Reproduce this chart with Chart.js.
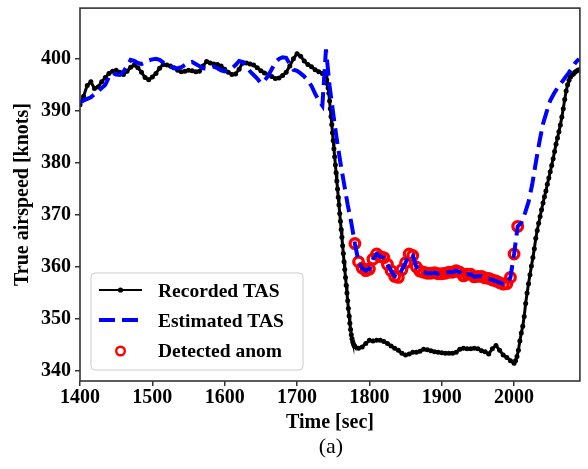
<!DOCTYPE html>
<html><head><meta charset="utf-8">
<script src="https://cdn.jsdelivr.net/npm/chart.js@4/dist/chart.umd.min.js"></script>
<style>
html,body{margin:0;padding:0;background:#fff;}
#wrap{position:relative;width:588px;height:469px;}
canvas{display:block;}
#cap{position:absolute;left:80px;width:502px;top:433px;text-align:center;font:22px "Liberation Serif";line-height:26px;color:#000;}
</style></head><body>
<div id="wrap"><canvas id="c" width="588" height="469"></canvas><div id="cap">(a)</div></div>
<script>
function range(a, b, s) { const r = []; for (let v = a; v <= b + 1e-9; v += s) r.push(v); return r; }

// Time grids (sec)
const recordedTime = [].concat(range(1400, 1740, 5), range(1741, 1780, 1), range(1785, 2000, 5), range(2002, 2090, 2));
const estimatedTime = range(1400, 2090, 5);

// Recorded TAS [knots]
const recordedTAS = [
  // 1400..1740 step 5
  391.2, 392.8, 394.9, 395.6, 394.3, 394.6, 395.6, 396.4, 397.2, 397.6,
  397.8, 397.4, 397.0, 397.6, 398.4, 398.8, 398.3, 397.4, 396.4, 396.0,
  396.5, 397.2, 398.2, 398.9, 398.8, 398.6, 398.3, 397.8, 397.5, 397.6,
  397.8, 397.7, 397.5, 397.6, 398.6, 399.5, 399.2, 399.0, 398.9, 398.6,
  398.0, 397.4, 397.0, 397.1, 398.0, 399.3, 399.2, 399.0, 398.8, 398.3,
  397.7, 397.3, 396.9, 396.6, 396.2, 396.3, 396.8, 397.4, 398.6, 400.0,
  401.0, 400.5, 399.6, 398.9, 398.5, 397.9, 397.5, 397.2, 396.6,
  // 1741..1780 step 1
  396.0, 395.2, 394.4, 393.4, 391.9, 390.4, 388.9, 387.4, 385.8, 384.3,
  382.7, 381.2, 379.6, 378.1, 376.5, 375.0, 373.4, 371.9, 370.3, 368.8,
  367.2, 365.7, 364.1, 362.6, 361.0, 359.5, 358.0, 356.5, 355.0, 353.5,
  352.0, 350.6, 349.2, 348.0, 347.0, 346.2, 345.6, 345.2, 344.9, 344.7,
  // 1785..2000 step 5
  344.4, 344.6, 345.3, 345.9, 345.8, 345.9, 345.9, 345.7, 345.3, 344.8,
  344.4, 344.0, 343.4, 343.1, 343.3, 343.6, 343.6, 343.8, 344.2, 344.1,
  343.9, 343.7, 343.6, 343.5, 343.4, 343.4, 343.4, 343.6, 344.2, 344.4,
  344.3, 344.3, 344.4, 344.3, 343.9, 343.7, 343.3, 344.3, 344.9, 344.0,
  343.1, 342.6, 342.0, 341.5,
  // 2002..2090 step 2
  342.0, 342.8, 344.0, 345.8, 347.3, 348.6, 350.5, 353.0, 355.0, 356.8,
  358.5, 360.2, 361.8, 363.5, 365.5, 367.0, 368.4, 369.7, 371.0, 372.3,
  373.5, 374.6, 375.9, 377.1, 378.3, 379.5, 380.8, 382.2, 383.6, 384.8,
  386.0, 387.3, 388.8, 390.4, 392.2, 393.8, 395.0, 395.9, 396.5, 396.9,
  397.1, 397.4, 397.6, 397.8, 397.9
];

// Estimated TAS [knots], 1400..2090 step 5
const estimatedTAS = [
  391.6, 392.0, 392.3, 392.6, 393.2, 393.8, 394.4, 395.0, 396.5, 397.3,
  397.0, 396.9, 397.5, 398.6, 399.8, 399.6, 399.2, 399.0, 399.3, 399.7,
  399.9, 400.0, 399.8, 399.3, 398.8, 398.5, 398.2, 398.2, 398.4, 398.8,
  399.2, 399.4, 399.0, 398.6, 398.2, 398.1, 398.3, 398.5, 398.2, 397.8,
  397.6, 397.8, 398.2, 398.8, 399.6, 399.4, 398.6, 397.6, 396.9, 396.2,
  395.3, 395.8, 396.7, 398.0, 399.3, 400.0, 400.3, 400.2, 399.0, 397.9,
  397.7, 397.2, 396.6, 395.8, 394.8, 393.3, 392.0, 391.0, 401.8, 394.8,
  389.5, 384.5, 380.0, 376.0, 372.0, 368.5, 364.5, 361.0, 359.8, 359.3,
  359.6, 361.5, 362.5, 362.0, 361.8, 360.5, 359.3, 358.2, 358.0, 359.5,
  360.8, 362.5, 362.2, 360.0, 359.2, 359.0, 358.8, 358.8, 358.9, 358.7,
  358.7, 358.8, 359.0, 359.0, 359.3, 359.0, 358.3, 358.6, 358.6, 358.1,
  358.2, 358.2, 357.9, 357.8, 357.5, 357.3, 357.0, 356.7, 356.8, 358.0,
  362.5, 367.8, 368.5, 370.3, 372.5, 375.8, 380.0, 384.0, 387.5, 389.8,
  392.0, 393.3, 394.4, 395.3, 396.3, 397.2, 398.2, 399.3, 400.0
];

// Detected anomaly window (sec)
const anomalyStart = 1780;
const anomalyEnd = 2005;

const xTicks = [1400, 1500, 1600, 1700, 1800, 1900, 2000];
const yTicks = [340, 350, 360, 370, 380, 390, 400];

const labels = ['Recorded TAS', 'Estimated TAS', 'Detected anom'];

const recPts = recordedTime.map((t, i) => ({x: t, y: recordedTAS[i]}));
const estPts = estimatedTime.map((t, i) => ({x: t, y: estimatedTAS[i]}));
const anomPts = estPts.filter(p => p.x >= anomalyStart && p.x <= anomalyEnd);

const FONT = 'Liberation Serif';
const BLUE_DASH = [16, 7];

const framePlugin = {
  id: 'frame',
  afterDatasetsDraw(chart) {
    const {ctx, chartArea: a} = chart;
    ctx.save();
    ctx.strokeStyle = '#333';
    ctx.lineWidth = 1.6;
    ctx.strokeRect(a.left, a.top, a.right - a.left, a.bottom - a.top);
    ctx.restore();
  }
};

const legendPlugin = {
  id: 'boxLegend',
  afterDraw(chart) {
    const ctx = chart.ctx;
    const bx = 91, by = 273, bw = 212, bh = 97, r = 4;
    ctx.save();
    ctx.beginPath();
    ctx.moveTo(bx + r, by);
    ctx.arcTo(bx + bw, by, bx + bw, by + bh, r);
    ctx.arcTo(bx + bw, by + bh, bx, by + bh, r);
    ctx.arcTo(bx, by + bh, bx, by, r);
    ctx.arcTo(bx, by, bx + bw, by, r);
    ctx.closePath();
    ctx.fillStyle = 'rgba(255,255,255,0.85)';
    ctx.fill();
    ctx.strokeStyle = '#cccccc';
    ctx.lineWidth = 1;
    ctx.stroke();

    const rows = [290, 320, 351];
    const x0 = 99, x1 = 142, xc = 120.5;
    ctx.strokeStyle = '#000'; ctx.lineWidth = 2; ctx.setLineDash([]);
    ctx.beginPath(); ctx.moveTo(x0, rows[0]); ctx.lineTo(x1, rows[0]); ctx.stroke();
    ctx.fillStyle = '#000';
    ctx.beginPath(); ctx.arc(xc, rows[0], 2.6, 0, Math.PI * 2); ctx.fill();
    ctx.strokeStyle = '#0000ff'; ctx.lineWidth = 4; ctx.setLineDash(BLUE_DASH);
    ctx.beginPath(); ctx.moveTo(x0, rows[1]); ctx.lineTo(x1, rows[1]); ctx.stroke();
    ctx.setLineDash([]);
    ctx.strokeStyle = '#ff0000'; ctx.lineWidth = 2.4;
    ctx.beginPath(); ctx.arc(xc, rows[2], 4.3, 0, Math.PI * 2); ctx.stroke();

    ctx.fillStyle = '#000';
    ctx.font = 'bold 19.5px "' + FONT + '"';
    ctx.textBaseline = 'alphabetic';
    ctx.textAlign = 'left';
    const base = [297, 327, 357];
    labels.forEach((s, i) => ctx.fillText(s, 158, base[i]));
    ctx.restore();
  }
};

const tickFont = {family: FONT, size: 20, weight: 'bold'};
const plain = v => String(v);

new Chart(document.getElementById('c'), {
  type: 'line',
  data: {
    datasets: [
      {
        label: labels[0], data: recPts,
        borderColor: '#000', backgroundColor: '#000', borderWidth: 3,
        pointRadius: 2.5, pointBorderWidth: 0, pointBackgroundColor: '#000',
        tension: 0, order: 3
      },
      {
        label: labels[1], data: estPts,
        borderColor: '#0000ff', borderWidth: 4, borderDash: BLUE_DASH,
        pointRadius: 0, tension: 0, order: 1
      },
      {
        label: labels[2], data: anomPts, showLine: false,
        pointStyle: 'circle', pointRadius: 4.8, pointBorderWidth: 3.3,
        pointBorderColor: '#ff0000', pointBackgroundColor: 'rgba(0,0,0,0)',
        borderColor: '#ff0000', backgroundColor: 'rgba(0,0,0,0)', order: 2
      }
    ]
  },
  options: {
    responsive: false,
    animation: false,
    devicePixelRatio: 1,
    parsing: false,
    layout: {padding: {left: 0, right: 6, top: 6, bottom: 34}},
    plugins: {legend: {display: false}, tooltip: {enabled: false}},
    scales: {
      x: {
        type: 'linear', min: 1400, max: 2091,
        afterBuildTicks: s => { s.ticks = xTicks.map(v => ({value: v})); },
        afterFit: s => { s.height = 54; s.paddingLeft = 0; s.paddingRight = 0; },
        grid: {drawOnChartArea: false, drawTicks: true, tickLength: 5, color: '#333', lineWidth: 1.5},
        border: {display: false},
        ticks: {font: tickFont, color: '#000', padding: 0, maxRotation: 0, autoSkip: false, callback: plain},
        title: {display: true, text: 'Time [sec]', font: tickFont, color: '#000', padding: {top: 0, bottom: 0}}
      },
      y: {
        type: 'linear', min: 338.09, max: 409.75,
        afterBuildTicks: s => { s.ticks = yTicks.map(v => ({value: v})); },
        afterFit: s => { s.width = 80; s.paddingTop = 0; s.paddingBottom = 0; },
        grid: {drawOnChartArea: false, drawTicks: true, tickLength: 5, color: '#333', lineWidth: 1.5},
        border: {display: false},
        ticks: {font: tickFont, color: '#000', padding: 4, autoSkip: false, callback: plain},
        title: {display: true, text: 'True airspeed [knots]', font: tickFont, color: '#000', padding: {top: 11, bottom: 0}}
      }
    }
  },
  plugins: [framePlugin, legendPlugin]
});
</script>
</body></html>
